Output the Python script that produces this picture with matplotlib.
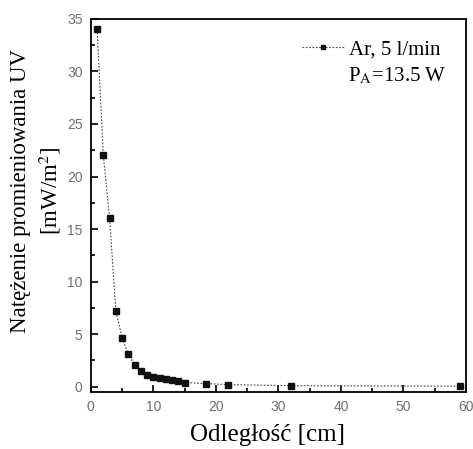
import matplotlib
matplotlib.use("Agg")
import matplotlib.pyplot as plt
from matplotlib.ticker import MultipleLocator

# distance [cm] and UV irradiance [mW/m2]
distance = [1, 2, 3, 4, 5, 6, 7, 8, 9, 10, 11, 12, 13, 14, 15, 18.5, 22, 32, 59]
irradiance = [34.0, 22.0, 16.1, 7.2, 4.65, 3.1, 2.1, 1.5, 1.15, 0.95, 0.8,
              0.7, 0.6, 0.5, 0.4, 0.3, 0.2, 0.1, 0.05]
series_label = "Ar, 5 l/min"
power_label = r"P$_\mathrm{A}$=13.5 W"

plt.rcParams["mathtext.fontset"] = "stix"
serif = "Liberation Serif"

fig = plt.figure(figsize=(4.73, 4.49), dpi=100)
ax = fig.add_axes([0.192, 0.127, 0.793, 0.831])

ax.plot(distance, irradiance, linestyle=(0, (1.5, 1.5)), linewidth=0.8,
        color="#444444", marker="s", markersize=4, markerfacecolor="#111111",
        markeredgecolor="#111111", label=series_label)

ax.set_xlim(0, 60)
ax.set_ylim(-0.5, 35)
ax.xaxis.set_major_locator(MultipleLocator(10))
ax.xaxis.set_minor_locator(MultipleLocator(5))
ax.yaxis.set_major_locator(MultipleLocator(5))
ax.yaxis.set_minor_locator(MultipleLocator(2.5))
ax.tick_params(which="both", direction="in", top=False, right=False,
               labelsize=10, labelcolor="#707070", width=1.2)
ax.tick_params(which="major", length=5, pad=6)
ax.tick_params(which="minor", length=3)
for lab in ax.get_xticklabels() + ax.get_yticklabels():
    lab.set_family("Liberation Sans")
for s in ax.spines.values():
    s.set_linewidth(1.3)

ax.set_xlabel("Odległość [cm]", family=serif, fontsize=18)
ax.xaxis.set_label_coords(0.472, -0.086)
ax.set_ylabel("Natężenie promieniowania UV\n[mW/m$^2$]", family=serif,
              fontsize=16.5, linespacing=1.3)
ax.yaxis.set_label_coords(-0.073, 0.539)

leg = ax.legend(loc="upper right", bbox_to_anchor=(0.955, 0.967),
                frameon=False, handlelength=2.0, handletextpad=0.25,
                borderaxespad=0.0, markerscale=0.7,
                prop={"family": serif, "size": 15})
ax.text(0.948, 0.874, power_label, transform=ax.transAxes, ha="right",
        va="top", family=serif, fontsize=15)

fig.savefig("out.png", dpi=100)
